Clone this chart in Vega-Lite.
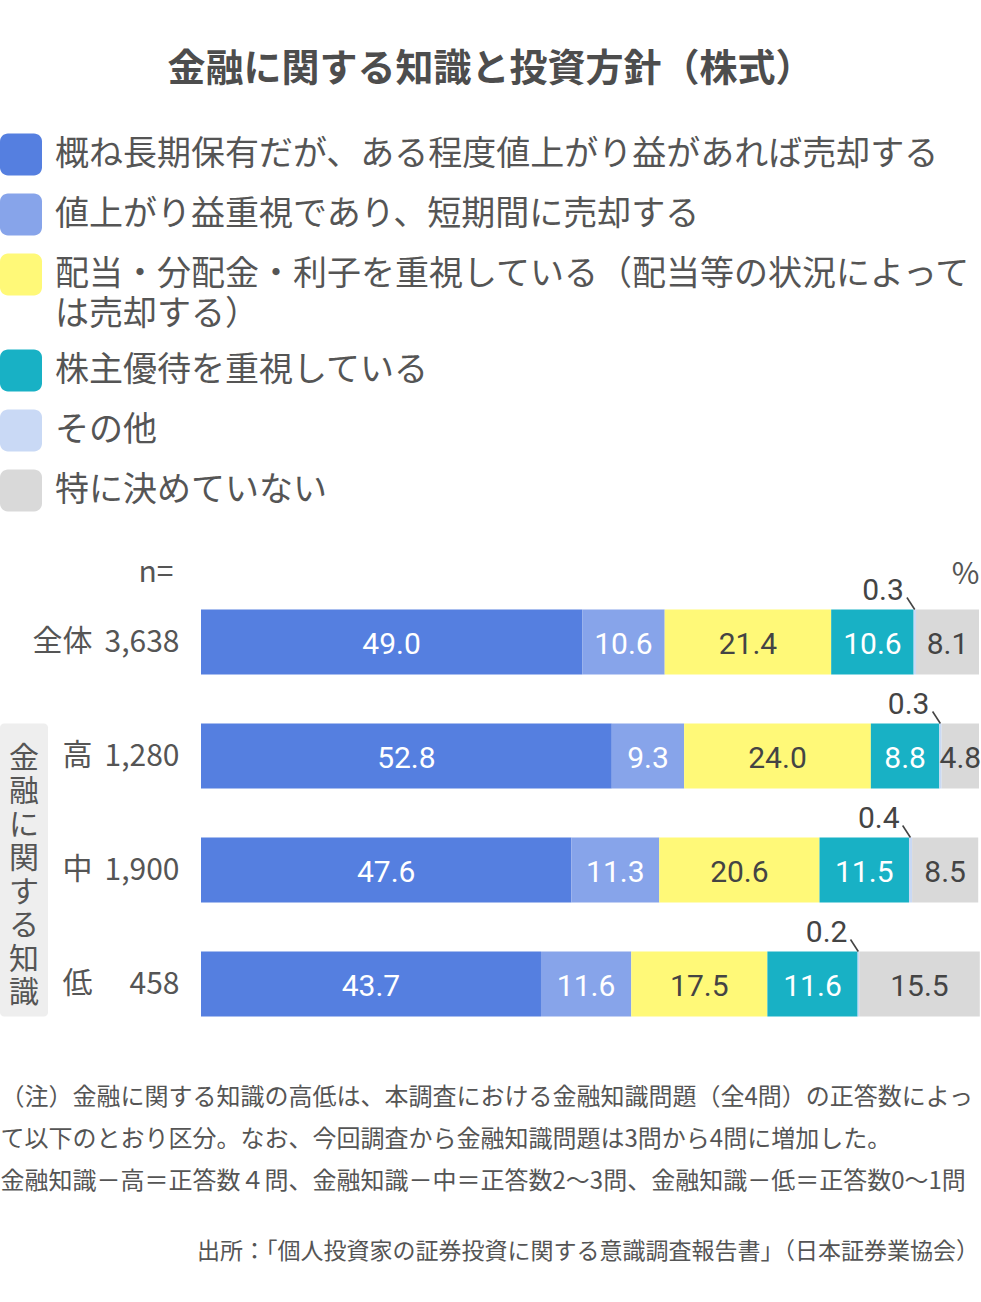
{
  "$schema": "https://vega.github.io/schema/vega-lite/v6.json",
  "background": "white",
  "padding": {"left": 0, "top": 50, "right": 0, "bottom": 30},
  "title": {
    "text": "金融に関する知識と投資方針（株式）",
    "font": "Noto Sans CJK JP",
    "fontSize": 38,
    "fontWeight": "bold",
    "color": "#4d4d4d",
    "anchor": "middle",
    "frame": "bounds",
    "offset": 45
  },
  "bounds": "flush",
  "spacing": 153,
  "hconcat": [
    {
      "width": 48,
      "height": 456,
      "data": {"values": [{"group": "金融に関する知識", "first": "高", "last": "低"}]},
      "layer": [
        {
          "mark": {"type": "rect", "fill": "#eeeeee", "cornerRadius": 4},
          "encoding": {
            "y": {"field": "first", "type": "nominal", "bandPosition": 0,
                  "scale": {"domain": ["全体", "高", "中", "低"], "paddingInner": 0.43, "paddingOuter": 0.215},
                  "axis": null},
            "y2": {"field": "last", "bandPosition": 1}
          }
        },
        {
          "mark": {"type": "text", "text": {"expr": "split(datum.group, '')"}, "baseline": "top", "align": "center",
                   "fontSize": 30, "lineHeight": 33.5, "color": "#555555", "yOffset": 20},
          "encoding": {
            "y": {"field": "first", "type": "nominal", "bandPosition": 0,
                  "scale": {"domain": ["全体", "高", "中", "低"], "paddingInner": 0.43, "paddingOuter": 0.215},
                  "axis": null}
          }
        }
      ]
    },
    {
      "width": 778,
      "height": 456,
      "title": {
        "text": "出所：「個人投資家の証券投資に関する意識調査報告書」（日本証券業協会）",
        "orient": "bottom",
        "anchor": "end",
        "frame": "group",
        "fontSize": 23,
        "fontWeight": "normal",
        "color": "#555555",
        "offset": 48
      },
      "data": {
        "values": [
          {"row": "全体", "n": "3,638", "k": 1, "cat": "概ね長期保有だが、ある程度値上がり益があれば売却する", "v": 49.0},
          {"row": "全体", "n": "3,638", "k": 2, "cat": "値上がり益重視であり、短期間に売却する", "v": 10.6},
          {"row": "全体", "n": "3,638", "k": 3, "cat": "配当・分配金・利子を重視している（配当等の状況によっては売却する）", "v": 21.4},
          {"row": "全体", "n": "3,638", "k": 4, "cat": "株主優待を重視している", "v": 10.6},
          {"row": "全体", "n": "3,638", "k": 5, "cat": "その他", "v": 0.3},
          {"row": "全体", "n": "3,638", "k": 6, "cat": "特に決めていない", "v": 8.1},
          {"row": "高", "n": "1,280", "k": 1, "cat": "概ね長期保有だが、ある程度値上がり益があれば売却する", "v": 52.8},
          {"row": "高", "n": "1,280", "k": 2, "cat": "値上がり益重視であり、短期間に売却する", "v": 9.3},
          {"row": "高", "n": "1,280", "k": 3, "cat": "配当・分配金・利子を重視している（配当等の状況によっては売却する）", "v": 24.0},
          {"row": "高", "n": "1,280", "k": 4, "cat": "株主優待を重視している", "v": 8.8},
          {"row": "高", "n": "1,280", "k": 5, "cat": "その他", "v": 0.3},
          {"row": "高", "n": "1,280", "k": 6, "cat": "特に決めていない", "v": 4.8},
          {"row": "中", "n": "1,900", "k": 1, "cat": "概ね長期保有だが、ある程度値上がり益があれば売却する", "v": 47.6},
          {"row": "中", "n": "1,900", "k": 2, "cat": "値上がり益重視であり、短期間に売却する", "v": 11.3},
          {"row": "中", "n": "1,900", "k": 3, "cat": "配当・分配金・利子を重視している（配当等の状況によっては売却する）", "v": 20.6},
          {"row": "中", "n": "1,900", "k": 4, "cat": "株主優待を重視している", "v": 11.5},
          {"row": "中", "n": "1,900", "k": 5, "cat": "その他", "v": 0.4},
          {"row": "中", "n": "1,900", "k": 6, "cat": "特に決めていない", "v": 8.5},
          {"row": "低", "n": "458", "k": 1, "cat": "概ね長期保有だが、ある程度値上がり益があれば売却する", "v": 43.7},
          {"row": "低", "n": "458", "k": 2, "cat": "値上がり益重視であり、短期間に売却する", "v": 11.6},
          {"row": "低", "n": "458", "k": 3, "cat": "配当・分配金・利子を重視している（配当等の状況によっては売却する）", "v": 17.5},
          {"row": "低", "n": "458", "k": 4, "cat": "株主優待を重視している", "v": 11.6},
          {"row": "低", "n": "458", "k": 5, "cat": "その他", "v": 0.2},
          {"row": "低", "n": "458", "k": 6, "cat": "特に決めていない", "v": 15.5}
        ]
      },
      "resolve": {"scale": {"y": "independent"}, "axis": {"x": "independent", "y": "independent"}},
      "layer": [
        {
          "mark": {"type": "bar"},
          "encoding": {
            "x": {"field": "v", "type": "quantitative", "stack": "zero",
                  "scale": {"domain": [0, 100], "nice": false},
                  "axis": {
                    "orient": "bottom", "labels": false,
                    "title": [
                      "（注）金融に関する知識の高低は、本調査における金融知識問題（全4問）の正答数によっ",
                      "て以下のとおり区分。なお、今回調査から金融知識問題は3問から4問に増加した。",
                      "金融知識－高＝正答数４問、金融知識－中＝正答数2〜3問、金融知識－低＝正答数0〜1問"
                    ],
                    "titleX": -201, "titleY": 63, "titleAlign": "left", "titleAnchor": "start",
                    "titleBaseline": "alphabetic", "titleFontSize": 24, "titleLineHeight": 42,
                    "titleLimit": 2000
                  }},
            "y": {"field": "row", "type": "nominal",
                  "scale": {"domain": ["全体", "高", "中", "低"], "paddingInner": 0.43, "paddingOuter": 0.215},
                  "axis": {"orient": "left", "offset": 109, "labelPadding": 0, "title": null}},
            "color": {
              "field": "cat", "type": "nominal",
              "scale": {
                "domain": [
                  "概ね長期保有だが、ある程度値上がり益があれば売却する",
                  "値上がり益重視であり、短期間に売却する",
                  "配当・分配金・利子を重視している（配当等の状況によっては売却する）",
                  "株主優待を重視している",
                  "その他",
                  "特に決めていない"
                ],
                "range": ["#557fe0", "#87a4ea", "#fff978", "#18b1c5", "#c9d9f5", "#d9d9d9"]
              },
              "legend": {
                "orient": "none", "legendX": 0, "legendY": -451.5, "direction": "vertical", "title": null,
                "symbolType": "M-0.62,-1H0.62A0.38,0.38,0,0,1,1,-0.62V0.62A0.38,0.38,0,0,1,0.62,1H-0.62A0.38,0.38,0,0,1,-1,0.62V-0.62A0.38,0.38,0,0,1,-0.62,-1Z",
                "symbolSize": 1764, "symbolStrokeWidth": 0, "symbolOpacity": 1,
                "labelFontSize": 34, "labelColor": "#555555", "labelOffset": 13, "labelLimit": 1000,
                "rowPadding": 18,
                "labelExpr": "length(datum.label) > 27 ? [slice(datum.label, 0, 27), slice(datum.label, 27)] : datum.label",
                "encoding": {"labels": {"lineHeight": {"value": 40}}}
              }
            },
            "order": {"field": "k"}
          }
        },
        {
          "mark": {"type": "text", "font": "Roboto", "fontSize": 30, "baseline": "middle", "dy": 3},
          "encoding": {
            "x": {"field": "v", "type": "quantitative", "stack": "zero", "bandPosition": 0.5, "axis": null},
            "y": {"field": "row", "type": "nominal",
                  "scale": {"domain": ["全体", "高", "中", "低"], "paddingInner": 0.43, "paddingOuter": 0.215},
                  "axis": null},
            "detail": {"field": "cat"},
            "order": {"field": "k"},
            "text": {"field": "v", "type": "quantitative", "format": ".1f"},
            "color": {"condition": {"test": "datum.k == 3 || datum.k == 6", "value": "#444444"}, "value": "#ffffff"},
            "opacity": {"condition": {"test": "datum.k == 5", "value": 0}, "value": 1}
          }
        },
        {
          "mark": {"type": "text", "font": "Roboto", "fontSize": 30, "align": "right", "baseline": "alphabetic",
                   "xOffset": -11, "yOffset": -42.5, "color": "#444444"},
          "encoding": {
            "x": {"field": "v", "type": "quantitative", "stack": "zero", "bandPosition": 0.5,
                  "axis": {"orient": "top", "labels": false, "title": "%", "titleX": 778, "titleY": -2,
                           "titleAlign": "right", "titleAnchor": "end", "titleBaseline": "alphabetic"}},
            "y": {"field": "row", "type": "nominal",
                  "scale": {"domain": ["全体", "高", "中", "低"], "paddingInner": 0.43, "paddingOuter": 0.215},
                  "axis": null},
            "detail": {"field": "cat"},
            "order": {"field": "k"},
            "text": {"field": "v", "type": "quantitative", "format": ".1f"},
            "opacity": {"condition": {"test": "datum.k == 5", "value": 1}, "value": 0}
          }
        },
        {
          "mark": {"type": "point", "shape": "M-0.65,-1L0.65,1", "size": 144, "filled": false,
                   "stroke": "#444444", "strokeWidth": 1.6, "xOffset": -4, "yOffset": -38.5},
          "encoding": {
            "x": {"field": "v", "type": "quantitative", "stack": "zero", "bandPosition": 0.5, "axis": null},
            "y": {"field": "n", "type": "nominal", "sort": null,
                  "scale": {"paddingInner": 0.43, "paddingOuter": 0.215},
                  "axis": {"orient": "left", "labelPadding": 22, "title": "n=", "titleAngle": 0,
                           "titleX": -28, "titleY": -12.5, "titleAlign": "right", "titleBaseline": "middle"}},
            "detail": {"field": "cat"},
            "order": {"field": "k"},
            "opacity": {"condition": {"test": "datum.k == 5", "value": 1}, "value": 0}
          }
        }
      ]
    }
  ],
  "config": {
    "font": "Noto Sans CJK JP",
    "view": {"stroke": null},
    "axis": {
      "domain": false, "ticks": false, "grid": false,
      "labelFont": "Noto Sans CJK JP", "labelFontSize": 30, "labelColor": "#555555",
      "titleFont": "Noto Sans CJK JP", "titleFontSize": 30, "titleFontWeight": "normal", "titleColor": "#555555"
    },
    "title": {"font": "Noto Sans CJK JP"}
  }
}
